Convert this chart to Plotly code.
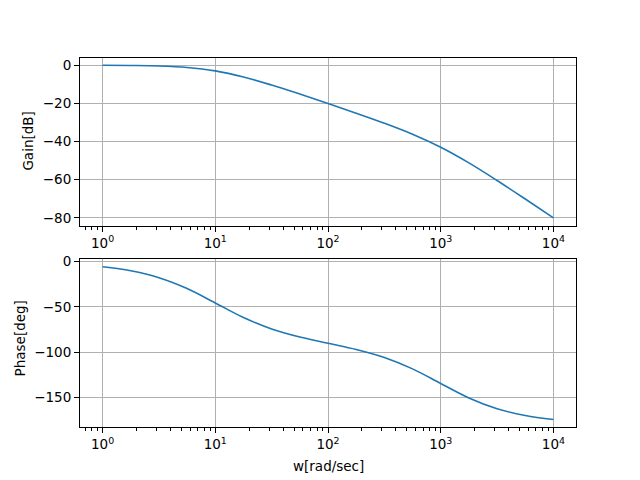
import plotly.graph_objects as go

# Frequency points (rad/sec)
w = [1, 1.778, 3.162, 5.623, 10, 17.78, 31.62, 56.23, 100, 177.8, 316.2, 562.3,
     1000, 1778, 3162, 5623, 10000]
gain_db = [-0.04, -0.14, -0.41, -1.19, -3.01, -6.19, -10.42, -15.15, -20.09,
           -25.15, -30.42, -36.19, -43.01, -51.19, -60.41, -70.13, -80.04]
phase_deg = [-5.77, -10.18, -17.73, -29.67, -45.57, -61.67, -74.26, -83.14, -90.0,
             -96.86, -105.74, -118.33, -134.43, -150.33, -162.27, -169.82, -174.23]

x_tickvals = [1, 10, 100, 1000, 10000]
x_ticktext = ["10<sup>0</sup>", "10<sup>1</sup>", "10<sup>2</sup>", "10<sup>3</sup>", "10<sup>4</sup>"]
gain_ticks = [0, -20, -40, -60, -80]
phase_ticks = [0, -50, -100, -150]

minor_vals = [m * 10 ** e for e in range(-1, 5) for m in range(2, 10)]

line_color = "#1f77b4"
font = dict(family="DejaVu Sans", size=13.5, color="black")

fig = go.Figure()
fig.add_trace(go.Scatter(x=w, y=gain_db, mode="lines", line=dict(color=line_color, width=1.6, shape="spline"),
                         xaxis="x", yaxis="y", showlegend=False))
fig.add_trace(go.Scatter(x=w, y=phase_deg, mode="lines", line=dict(color=line_color, width=1.6, shape="spline"),
                         xaxis="x2", yaxis="y2", showlegend=False))

common_x = dict(type="log", range=[-0.2, 4.2], tickmode="array", tickvals=x_tickvals, ticktext=x_ticktext,
                showline=True, linecolor="black", linewidth=1, mirror=True, ticks="outside", ticklen=5,
                tickcolor="black", showgrid=True, gridcolor="#b0b0b0", gridwidth=0.8, zeroline=False,
                tickfont=font, automargin=False,
                minor=dict(tickmode="array", tickvals=minor_vals, ticks="outside", ticklen=3,
                           tickcolor="black", showgrid=False))
common_y = dict(showline=True, linecolor="black", linewidth=1, mirror=True, ticks="outside", ticklen=5,
                tickcolor="black", showgrid=True, gridcolor="#b0b0b0", gridwidth=0.8, zeroline=False,
                tickfont=font, tickmode="array", automargin=False)

fig.update_layout(
    template="none",
    width=640, height=480, margin=dict(l=0, r=0, t=0, b=0, pad=0, autoexpand=False),
    paper_bgcolor="white", plot_bgcolor="white", font=font,
    xaxis=dict(domain=[0.125, 0.9], anchor="y", **common_x),
    yaxis=dict(domain=[0.53, 0.88], anchor="x", range=[-84.04, 3.96], tickvals=gain_ticks, **common_y),
    xaxis2=dict(domain=[0.125, 0.9], anchor="y2", **common_x),
    yaxis2=dict(domain=[0.11, 0.46], anchor="x2", range=[-182.65, 2.65], tickvals=phase_ticks, **common_y),
    annotations=[
        dict(text="Gain[dB]", x=28 / 640, y=1 - 141.6 / 480, xref="paper", yref="paper", textangle=-90,
             showarrow=False, font=font, xanchor="center", yanchor="middle"),
        dict(text="Phase[deg]", x=20 / 640, y=1 - 338.4 / 480, xref="paper", yref="paper", textangle=-90,
             showarrow=False, font=font, xanchor="center", yanchor="middle"),
        dict(text="w[rad/sec]", x=(80 + 576) / 2 / 640, y=1 - 466 / 480, xref="paper", yref="paper",
             showarrow=False, font=font, xanchor="center", yanchor="middle"),
    ],
)

post = ("document.body.style.margin='0px';document.body.style.overflow='hidden';"
        "var d=document.getElementById('{plot_id}');d.style.position='absolute';"
        "d.style.top='0px';d.style.left='0px';")
fig.write_html("out.html", config={"displayModeBar": False}, post_script=post)
